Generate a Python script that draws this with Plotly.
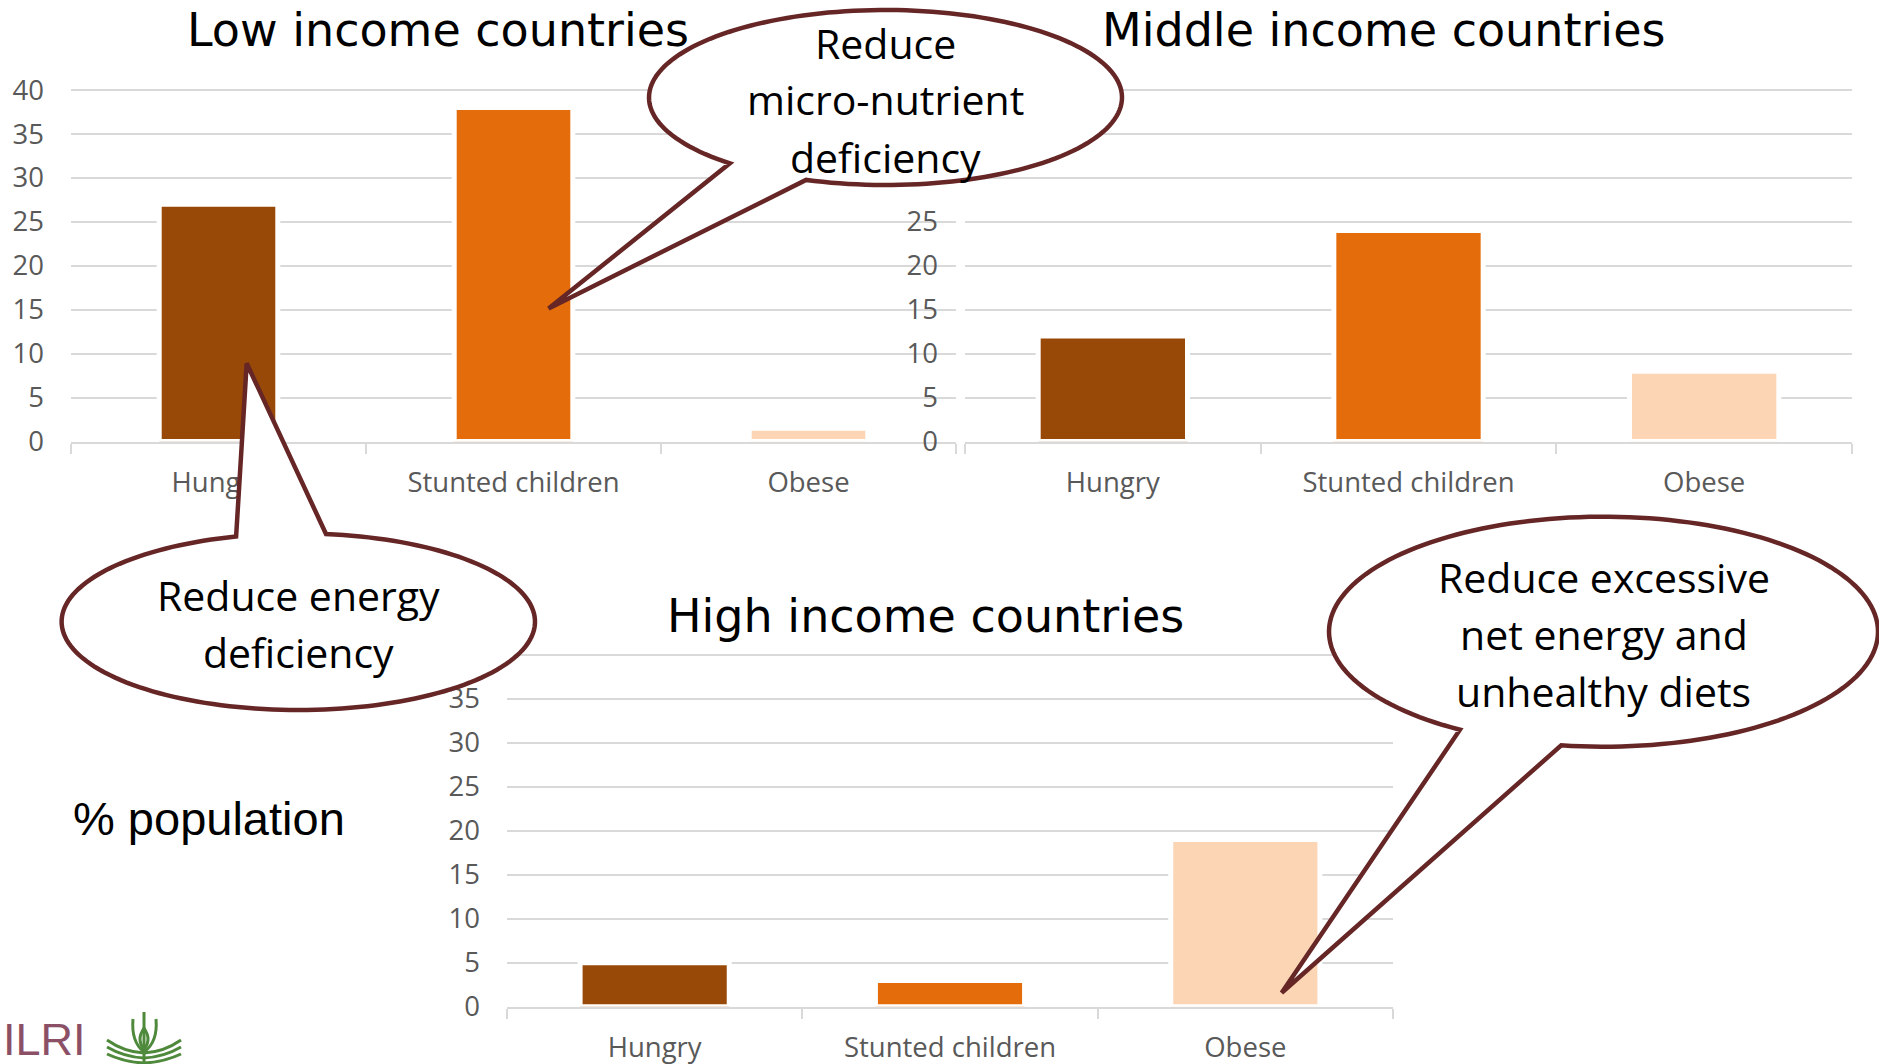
import math
import plotly.graph_objects as go

# Page size in pixels
W, H = 1879, 1064

# ---- data -------------------------------------------------------------
categories = ["Hungry", "Stunted children", "Obese"]
low_income = [27, 38, 1.5]
middle_income = [12, 24, 8]
high_income = [5, 3, 19]
bar_colors = ["#984807", "#E46C0A", "#FCD5B5"]
y_ticks = [0, 5, 10, 15, 20, 25, 30, 35, 40]
# labels that sit behind a speech bubble are left blank
low_tick_text = ["0", "5", "10", "15", "20", "25", "30", "35", "40"]
middle_tick_text = ["0", "5", "10", "15", "20", "25", "", "", ""]
high_tick_text = ["0", "5", "10", "15", "20", "25", "30", "35", ""]
panel_titles = ["Low income countries", "Middle income countries", "High income countries"]
callout_lines = [
    ["Reduce", "micro-nutrient", "deficiency"],
    ["Reduce energy", "deficiency"],
    ["Reduce excessive", "net energy and", "unhealthy diets"],
]


def fx(x):
    return x / W


def fy(y):
    return 1 - y / H


TICK_FONT = dict(family="Open Sans", size=27.5, color="#595959")
GRID = "#D9D9D9"
OUTLINE = "#662626"
Y_TOP = 40.3  # a little headroom so the 40 gridline is kept

fig = go.Figure()

# panel layout: (xaxis, yaxis, values, tick text, bar width, x px, (y of 40, y of 0) px)
panels = [
    ("x", "y", low_income, low_tick_text, 0.402, (71, 956), (90, 441.5)),
    ("x2", "y2", middle_income, middle_tick_text, 0.505, (965, 1852), (90, 441.5)),
    ("x3", "y3", high_income, high_tick_text, 0.505, (507, 1393), (654.6, 1006.8)),
]

layout_axes = {}
for i, (xa, ya, vals, ttext, bw, (x0, x1), (y40, y0)) in enumerate(panels):
    fig.add_trace(go.Bar(
        x=categories, y=vals, xaxis=xa, yaxis=ya, width=bw,
        marker=dict(color=bar_colors, line=dict(color="white", width=5)),
        hoverinfo="skip", showlegend=False,
    ))
    ppu = (y0 - y40) / 40.0
    ytop = y40 - (Y_TOP - 40) * ppu
    xname = "xaxis" if i == 0 else f"xaxis{i + 1}"
    yname = "yaxis" if i == 0 else f"yaxis{i + 1}"
    layout_axes[xname] = dict(
        domain=[fx(x0), fx(x1)], anchor=ya, type="category", automargin=False,
        showline=True, linecolor=GRID, linewidth=2,
        ticks="outside", ticklen=10, tickwidth=2, tickcolor=GRID,
        tickson="boundaries", showgrid=False, zeroline=False, tickfont=TICK_FONT,
        ticklabelstandoff=15, fixedrange=True,
    )
    layout_axes[yname] = dict(
        domain=[fy(y0), fy(ytop)], anchor=xa, range=[0, Y_TOP], automargin=False,
        tickmode="array", tickvals=y_ticks, ticktext=ttext,
        showgrid=True, gridcolor=GRID, gridwidth=2, zeroline=False,
        showline=False, ticks="", tickfont=TICK_FONT,
        ticklabelstandoff=26, fixedrange=True,
    )

fig.update_layout(**layout_axes)


# ---- speech-bubble callouts --------------------------------------------
def callout_path(cx, cy, rx, ry, b1, b2, tip, n=160):
    a1 = math.atan2((b1[1] - cy) / ry, (b1[0] - cx) / rx)
    a2 = math.atan2((b2[1] - cy) / ry, (b2[0] - cx) / rx)
    d = a2 - a1
    while d <= -math.pi:
        d += 2 * math.pi
    while d > math.pi:
        d -= 2 * math.pi
    long_way = d - math.copysign(2 * math.pi, d)
    pts = []
    for k in range(n + 1):
        a = a1 + long_way * k / n
        pts.append((cx + rx * math.cos(a), cy + ry * math.sin(a)))
    path = f"M {fx(tip[0]):.5f},{fy(tip[1]):.5f}"
    for (x, y) in pts:
        path += f" L {fx(x):.5f},{fy(y):.5f}"
    path += " Z"
    return path


callouts = [
    dict(cx=885.5, cy=97.5, rx=236.5, ry=87.5, b1=(730, 163.3), b2=(806, 180), tip=(548.6, 308.5)),
    dict(cx=298.3, cy=621.7, rx=236.7, ry=88.3, b1=(236.7, 537.3), b2=(326, 534), tip=(246.7, 363.3)),
    dict(cx=1603.5, cy=631.7, rx=274.5, ry=115, b1=(1462, 728.3), b2=(1562, 743.3), tip=(1281.7, 992.7)),
]

LINE_GAP = 57  # px between callout text lines
shapes = []
annotations = []
for c, lines in zip(callouts, callout_lines):
    shapes.append(dict(
        type="path", xref="paper", yref="paper", layer="above",
        path=callout_path(c["cx"], c["cy"], c["rx"], c["ry"], c["b1"], c["b2"], c["tip"]),
        fillcolor="white", line=dict(color=OUTLINE, width=4.5),
    ))
    n = len(lines)
    for j, line in enumerate(lines):
        ly = c["cy"] + 2 + (j - (n - 1) / 2) * LINE_GAP
        annotations.append(dict(
            x=fx(c["cx"]), y=fy(ly), xref="paper", yref="paper",
            text=line, showarrow=False, xanchor="center", yanchor="middle",
            font=dict(family="Open Sans", size=41, color="black"),
        ))

# ---- panel titles -----------------------------------------------------
title_pos = [(438, 30), (1383, 30), (925.5, 616)]
for t, (tx, ty) in zip(panel_titles, title_pos):
    annotations.append(dict(
        x=fx(tx), y=fy(ty), xref="paper", yref="paper", text=t,
        showarrow=False, xanchor="center", yanchor="middle",
        font=dict(family="DejaVu Sans", size=46, color="black"),
    ))

annotations.append(dict(
    x=fx(209), y=fy(818), xref="paper", yref="paper", text="% population",
    showarrow=False, xanchor="center", yanchor="middle",
    font=dict(family="Liberation Sans", size=47, color="black"),
))

# ---- ILRI mark, bottom-left -------------------------------------------
annotations.append(dict(
    x=fx(1), y=fy(1039), xref="paper", yref="paper", text="ILRI",
    showarrow=False, xanchor="left", yanchor="middle",
    font=dict(family="Liberation Sans Narrow, Liberation Sans", size=45, color="#8C5066"),
))


def seg(points, kind="L"):
    s = f"M {fx(points[0][0]):.5f},{fy(points[0][1]):.5f}"
    if kind == "Q":
        for i in range(1, len(points), 2):
            (qx, qy), (ex, ey) = points[i], points[i + 1]
            s += f" Q {fx(qx):.5f},{fy(qy):.5f} {fx(ex):.5f},{fy(ey):.5f}"
    else:
        for (x, y) in points[1:]:
            s += f" L {fx(x):.5f},{fy(y):.5f}"
    return s


green = "#4F8A3C"
emblem = [
    seg([(144, 1012), (144, 1064)]),
    seg([(144, 1028), (136, 1040), (144, 1049), (152, 1040), (144, 1028)], "Q"),
    seg([(133, 1019), (131, 1042), (144, 1052)], "Q"),
    seg([(156, 1019), (158, 1042), (144, 1052)], "Q"),
]
for k in range(3):
    off = 5 * k
    emblem.append(seg([(144, 1053 + off), (124, 1052 + off), (107, 1040 + off + 2 * k)], "Q"))
    emblem.append(seg([(144, 1053 + off), (164, 1052 + off), (181, 1040 + off + 2 * k)], "Q"))
for p in emblem:
    shapes.append(dict(type="path", xref="paper", yref="paper", layer="above",
                       path=p, line=dict(color=green, width=3)))

fig.update_layout(
    template="none",
    width=W, height=H, autosize=False,
    margin=dict(l=0, r=0, t=0, b=0, pad=0),
    paper_bgcolor="white", plot_bgcolor="white",
    showlegend=False, bargap=0.5,
    shapes=shapes, annotations=annotations,
)

fig.write_html("out.html", config=dict(displayModeBar=False))
